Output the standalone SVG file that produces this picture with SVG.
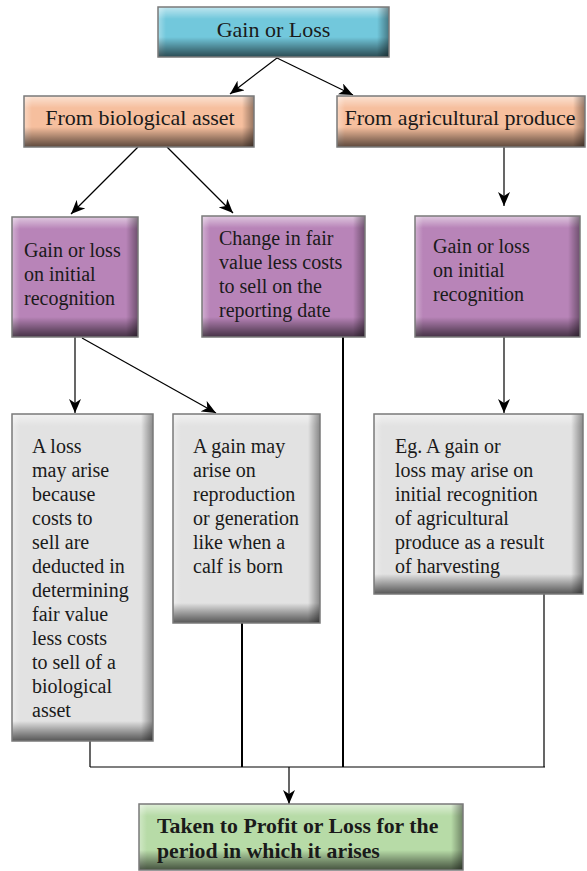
<svg xmlns="http://www.w3.org/2000/svg" width="587" height="871" viewBox="0 0 587 871">
  <defs>
    <style>
      .txt { font-family: "Liberation Serif", "Times New Roman", serif; font-size: 20px; fill: #1a1a1a; }
      .head { font-size: 22px; }
      .bold { font-weight: bold; font-size: 21.8px; }
      .teal { fill: #72c8dc; }
      .orange { fill: #f6bf9e; }
      .purple { fill: #b884b8; }
      .grey { fill: #e2e2e2; }
      .green { fill: #b7dba7; }
      .edge { fill: none; stroke: #7a7a7a; stroke-width: 1.5; }
      .hiT { fill: url(#hiTop); }
      .hiL { fill: url(#hiLeft); }
      .shR { fill: url(#shRight); }
      .shB { fill: url(#shBottom); }
      .link { stroke: #000; stroke-width: 1.2; fill: none; }
      .thick { stroke-width: 2; }
      .arrow { marker-end: url(#head); }
    </style>
    <linearGradient id="hiTop" x1="0" y1="0" x2="0" y2="1">
      <stop offset="0" stop-color="#fff" stop-opacity="0.55"/>
      <stop offset="1" stop-color="#fff" stop-opacity="0"/>
    </linearGradient>
    <linearGradient id="hiLeft" x1="0" y1="0" x2="1" y2="0">
      <stop offset="0" stop-color="#fff" stop-opacity="0.35"/>
      <stop offset="1" stop-color="#fff" stop-opacity="0"/>
    </linearGradient>
    <linearGradient id="shRight" x1="0" y1="0" x2="1" y2="0">
      <stop offset="0" stop-color="#000" stop-opacity="0"/>
      <stop offset="1" stop-color="#000" stop-opacity="0.4"/>
    </linearGradient>
    <linearGradient id="shBottom" x1="0" y1="0" x2="0" y2="1">
      <stop offset="0" stop-color="#000" stop-opacity="0"/>
      <stop offset="0.6" stop-color="#000" stop-opacity="0.38"/>
      <stop offset="1" stop-color="#000" stop-opacity="0.62"/>
    </linearGradient>
    <marker id="head" markerUnits="userSpaceOnUse" markerWidth="14" markerHeight="12" refX="14" refY="6" orient="auto">
      <path d="M0,0 L14,6 L0,12 L4,6 z" fill="#000"/>
    </marker>
  </defs>

  <rect width="587" height="871" fill="#fff"/>

  <!-- connectors -->
  <g id="connectors">
    <line class="link arrow" x1="277" y1="58" x2="230" y2="94"/>
    <line class="link arrow" x1="277" y1="58" x2="353" y2="95"/>
    <line class="link arrow" x1="138" y1="147" x2="71" y2="214"/>
    <line class="link arrow" x1="167" y1="147" x2="233" y2="213"/>
    <line class="link arrow" x1="504" y1="147" x2="504" y2="206"/>
    <line class="link arrow" x1="75" y1="337" x2="75" y2="413"/>
    <line class="link arrow" x1="82" y1="338" x2="216" y2="413"/>
    <line class="link arrow" x1="504" y1="337" x2="504" y2="413"/>
    <line class="link" x1="90" y1="741" x2="90" y2="767"/>
    <line class="link thick" x1="242" y1="623" x2="242" y2="767"/>
    <line class="link thick" x1="343" y1="337" x2="343" y2="767"/>
    <line class="link" x1="544" y1="594" x2="544" y2="767"/>
    <line class="link" x1="90" y1="767" x2="545" y2="767"/>
    <line class="link arrow" x1="289" y1="767" x2="289" y2="804"/>
  </g>

  <!-- Gain or Loss -->
  <g id="gain-or-loss">
    <rect class="teal" x="158" y="7" width="231" height="50"/>
    <rect class="hiT" x="158" y="7" width="231" height="12"/>
    <rect class="hiL" x="158" y="7" width="8" height="50"/>
    <rect class="shR" x="377" y="7" width="12" height="50"/>
    <rect class="shB" x="158" y="37" width="231" height="20"/>
    <rect class="edge" x="158" y="7" width="231" height="50"/>
    <text class="txt head" x="273.5" y="37" text-anchor="middle">Gain or Loss</text>
  </g>

  <!-- From biological asset -->
  <g id="from-biological-asset">
    <rect class="orange" x="24" y="96" width="230" height="51"/>
    <rect class="hiT" x="24" y="96" width="230" height="12"/>
    <rect class="hiL" x="24" y="96" width="8" height="51"/>
    <rect class="shR" x="242" y="96" width="12" height="51"/>
    <rect class="shB" x="24" y="127" width="230" height="20"/>
    <rect class="edge" x="24" y="96" width="230" height="51"/>
    <text class="txt head" x="140" y="125" text-anchor="middle">From biological asset</text>
  </g>

  <!-- From agricultural produce -->
  <g id="from-agricultural-produce">
    <rect class="orange" x="337" y="96" width="248" height="51"/>
    <rect class="hiT" x="337" y="96" width="248" height="12"/>
    <rect class="hiL" x="337" y="96" width="8" height="51"/>
    <rect class="shR" x="573" y="96" width="12" height="51"/>
    <rect class="shB" x="337" y="127" width="248" height="20"/>
    <rect class="edge" x="337" y="96" width="248" height="51"/>
    <text class="txt head" x="460" y="125" text-anchor="middle">From agricultural produce</text>
  </g>

  <!-- biological: initial recognition -->
  <g id="bio-initial">
    <rect class="purple" x="12" y="217" width="126" height="120"/>
    <rect class="hiT" x="12" y="217" width="126" height="12"/>
    <rect class="hiL" x="12" y="217" width="8" height="120"/>
    <rect class="shR" x="126" y="217" width="12" height="120"/>
    <rect class="shB" x="12" y="317" width="126" height="20"/>
    <rect class="edge" x="12" y="217" width="126" height="120"/>
    <text class="txt" x="24" y="257">Gain or loss</text>
    <text class="txt" x="24" y="281">on initial</text>
    <text class="txt" x="24" y="305">recognition</text>
  </g>

  <!-- biological: change in fair value -->
  <g id="bio-fair-value">
    <rect class="purple" x="202" y="216" width="163" height="121"/>
    <rect class="hiT" x="202" y="216" width="163" height="12"/>
    <rect class="hiL" x="202" y="216" width="8" height="121"/>
    <rect class="shR" x="353" y="216" width="12" height="121"/>
    <rect class="shB" x="202" y="317" width="163" height="20"/>
    <rect class="edge" x="202" y="216" width="163" height="121"/>
    <text class="txt" x="219" y="245">Change in fair</text>
    <text class="txt" x="219" y="269">value less costs</text>
    <text class="txt" x="219" y="293">to sell on the</text>
    <text class="txt" x="219" y="317">reporting date</text>
  </g>

  <!-- produce: initial recognition -->
  <g id="produce-initial">
    <rect class="purple" x="415" y="216" width="165" height="121"/>
    <rect class="hiT" x="415" y="216" width="165" height="12"/>
    <rect class="hiL" x="415" y="216" width="8" height="121"/>
    <rect class="shR" x="568" y="216" width="12" height="121"/>
    <rect class="shB" x="415" y="317" width="165" height="20"/>
    <rect class="edge" x="415" y="216" width="165" height="121"/>
    <text class="txt" x="433" y="253">Gain or loss</text>
    <text class="txt" x="433" y="277">on initial</text>
    <text class="txt" x="433" y="301">recognition</text>
  </g>

  <!-- loss example -->
  <g id="loss-example">
    <rect class="grey" x="12" y="414" width="141" height="327"/>
    <rect class="hiT" x="12" y="414" width="141" height="12"/>
    <rect class="hiL" x="12" y="414" width="8" height="327"/>
    <rect class="shR" x="141" y="414" width="12" height="327"/>
    <rect class="shB" x="12" y="721" width="141" height="20"/>
    <rect class="edge" x="12" y="414" width="141" height="327"/>
    <text class="txt" x="32" y="453">A loss</text>
    <text class="txt" x="32" y="477">may arise</text>
    <text class="txt" x="32" y="501">because</text>
    <text class="txt" x="32" y="525">costs to</text>
    <text class="txt" x="32" y="549">sell are</text>
    <text class="txt" x="32" y="573">deducted in</text>
    <text class="txt" x="32" y="597">determining</text>
    <text class="txt" x="32" y="621">fair value</text>
    <text class="txt" x="32" y="645">less costs</text>
    <text class="txt" x="32" y="669">to sell of a</text>
    <text class="txt" x="32" y="693">biological</text>
    <text class="txt" x="32" y="717">asset</text>
  </g>

  <!-- gain example -->
  <g id="gain-example">
    <rect class="grey" x="173" y="414" width="147" height="209"/>
    <rect class="hiT" x="173" y="414" width="147" height="12"/>
    <rect class="hiL" x="173" y="414" width="8" height="209"/>
    <rect class="shR" x="308" y="414" width="12" height="209"/>
    <rect class="shB" x="173" y="603" width="147" height="20"/>
    <rect class="edge" x="173" y="414" width="147" height="209"/>
    <text class="txt" x="193" y="453">A gain may</text>
    <text class="txt" x="193" y="477">arise on</text>
    <text class="txt" x="193" y="501">reproduction</text>
    <text class="txt" x="193" y="525">or generation</text>
    <text class="txt" x="193" y="549">like when a</text>
    <text class="txt" x="193" y="573">calf is born</text>
  </g>

  <!-- harvest example -->
  <g id="harvest-example">
    <rect class="grey" x="374" y="414" width="209" height="180"/>
    <rect class="hiT" x="374" y="414" width="209" height="12"/>
    <rect class="hiL" x="374" y="414" width="8" height="180"/>
    <rect class="shR" x="571" y="414" width="12" height="180"/>
    <rect class="shB" x="374" y="574" width="209" height="20"/>
    <rect class="edge" x="374" y="414" width="209" height="180"/>
    <text class="txt" x="395" y="453">Eg. A gain or</text>
    <text class="txt" x="395" y="477">loss may arise on</text>
    <text class="txt" x="395" y="501">initial recognition</text>
    <text class="txt" x="395" y="525">of agricultural</text>
    <text class="txt" x="395" y="549">produce as a result</text>
    <text class="txt" x="395" y="573">of harvesting</text>
  </g>

  <!-- profit or loss -->
  <g id="profit-or-loss">
    <rect class="green" x="139" y="804" width="324" height="66"/>
    <rect class="hiT" x="139" y="804" width="324" height="12"/>
    <rect class="hiL" x="139" y="804" width="8" height="66"/>
    <rect class="shR" x="451" y="804" width="12" height="66"/>
    <rect class="shB" x="139" y="850" width="324" height="20"/>
    <rect class="edge" x="139" y="804" width="324" height="66"/>
    <text class="txt bold" x="157" y="833">Taken to Profit or Loss for the</text>
    <text class="txt bold" x="157" y="858">period in which it arises</text>
  </g>
</svg>
